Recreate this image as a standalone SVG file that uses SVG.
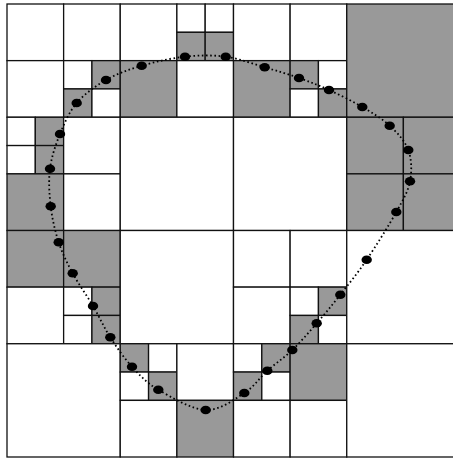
<svg xmlns="http://www.w3.org/2000/svg" width="453" height="458" viewBox="0 0 453 458">
<style>
.w{fill:#fff;stroke:#111;stroke-width:1.3}
.g{fill:#999;stroke:#111;stroke-width:1.3}
.curve{fill:none;stroke:#000;stroke-width:1.8;stroke-dasharray:1.6 2.6}
.dot{fill:#000}
</style>
<rect x="0" y="0" width="453" height="458" fill="#fff"/>
<g id="cells" transform="translate(7,4)">
<!-- top-left quadrant -->
<rect class="w" x="0" y="0" width="56.63" height="56.63"/>
<rect class="w" x="56.63" y="0" width="56.63" height="56.63"/>
<rect class="w" x="0" y="56.63" width="56.63" height="56.63"/>
<rect class="w" x="56.63" y="56.63" width="28.31" height="28.31"/>
<rect class="g" x="84.94" y="56.63" width="28.31" height="28.31"/>
<rect class="g" x="56.63" y="84.94" width="28.31" height="28.31"/>
<rect class="w" x="84.94" y="84.94" width="28.31" height="28.31"/>
<rect class="w" x="113.25" y="0" width="56.63" height="56.63"/>
<rect class="w" x="169.88" y="0" width="28.31" height="28.31"/>
<rect class="w" x="198.19" y="0" width="28.31" height="28.31"/>
<rect class="g" x="169.88" y="28.31" width="28.31" height="28.31"/>
<rect class="g" x="198.19" y="28.31" width="28.31" height="28.31"/>
<rect class="g" x="113.25" y="56.63" width="56.63" height="56.63"/>
<rect class="w" x="169.88" y="56.63" width="56.63" height="56.63"/>
<rect class="w" x="0" y="113.25" width="28.31" height="28.31"/>
<rect class="g" x="28.31" y="113.25" width="28.31" height="28.31"/>
<rect class="w" x="0" y="141.56" width="28.31" height="28.31"/>
<rect class="g" x="28.31" y="141.56" width="28.31" height="28.31"/>
<rect class="w" x="56.63" y="113.25" width="56.63" height="56.63"/>
<rect class="g" x="0" y="169.88" width="56.63" height="56.63"/>
<rect class="w" x="56.63" y="169.88" width="56.63" height="56.63"/>
<rect class="w" x="113.25" y="113.25" width="113.25" height="113.25"/>
<!-- top-right quadrant -->
<rect class="w" x="226.5" y="0" width="56.63" height="56.63"/>
<rect class="w" x="283.13" y="0" width="56.63" height="56.63"/>
<rect class="g" x="226.5" y="56.63" width="56.63" height="56.63"/>
<rect class="g" x="283.13" y="56.63" width="28.31" height="28.31"/>
<rect class="w" x="311.44" y="56.63" width="28.31" height="28.31"/>
<rect class="w" x="283.13" y="84.94" width="28.31" height="28.31"/>
<rect class="g" x="311.44" y="84.94" width="28.31" height="28.31"/>
<rect class="g" x="339.75" y="0" width="113.25" height="113.25"/>
<rect class="w" x="226.5" y="113.25" width="113.25" height="113.25"/>
<rect class="g" x="339.75" y="113.25" width="56.63" height="56.63"/>
<rect class="g" x="396.38" y="113.25" width="56.63" height="56.63"/>
<rect class="g" x="339.75" y="169.88" width="56.63" height="56.63"/>
<rect class="g" x="396.38" y="169.88" width="56.63" height="56.63"/>
<!-- bottom-left quadrant -->
<rect class="g" x="0" y="226.5" width="56.63" height="56.63"/>
<rect class="g" x="56.63" y="226.5" width="56.63" height="56.63"/>
<rect class="w" x="0" y="283.13" width="56.63" height="56.63"/>
<rect class="w" x="56.63" y="283.13" width="28.31" height="28.31"/>
<rect class="g" x="84.94" y="283.13" width="28.31" height="28.31"/>
<rect class="w" x="56.63" y="311.44" width="28.31" height="28.31"/>
<rect class="g" x="84.94" y="311.44" width="28.31" height="28.31"/>
<rect class="w" x="113.25" y="226.5" width="113.25" height="113.25"/>
<rect class="w" x="0" y="339.75" width="113.25" height="113.25"/>
<rect class="g" x="113.25" y="339.75" width="28.31" height="28.31"/>
<rect class="w" x="141.56" y="339.75" width="28.31" height="28.31"/>
<rect class="w" x="113.25" y="368.06" width="28.31" height="28.31"/>
<rect class="g" x="141.56" y="368.06" width="28.31" height="28.31"/>
<rect class="w" x="169.88" y="339.75" width="56.63" height="56.63"/>
<rect class="w" x="113.25" y="396.38" width="56.63" height="56.63"/>
<rect class="g" x="169.88" y="396.38" width="56.63" height="56.63"/>
<!-- bottom-right quadrant -->
<rect class="w" x="226.5" y="226.5" width="56.63" height="56.63"/>
<rect class="w" x="283.13" y="226.5" width="56.63" height="56.63"/>
<rect class="w" x="226.5" y="283.13" width="56.63" height="56.63"/>
<rect class="w" x="283.13" y="283.13" width="28.31" height="28.31"/>
<rect class="g" x="311.44" y="283.13" width="28.31" height="28.31"/>
<rect class="g" x="283.13" y="311.44" width="28.31" height="28.31"/>
<rect class="w" x="311.44" y="311.44" width="28.31" height="28.31"/>
<rect class="w" x="339.75" y="226.5" width="113.25" height="113.25"/>
<rect class="w" x="226.5" y="339.75" width="28.31" height="28.31"/>
<rect class="g" x="254.81" y="339.75" width="28.31" height="28.31"/>
<rect class="g" x="226.5" y="368.06" width="28.31" height="28.31"/>
<rect class="w" x="254.81" y="368.06" width="28.31" height="28.31"/>
<rect class="g" x="283.13" y="339.75" width="56.63" height="56.63"/>
<rect class="w" x="226.5" y="396.38" width="56.63" height="56.63"/>
<rect class="w" x="283.13" y="396.38" width="56.63" height="56.63"/>
<rect class="w" x="339.75" y="339.75" width="113.25" height="113.25"/>
</g>
<g id="contour">
<path class="curve" d="M185,56.7 C199,55.2 212.42,54.93 225.7,56.7 C238.98,58.47 252.48,63.75 264.7,67.3 C276.92,70.85 288.28,74.22 299,78 C309.72,81.78 318.45,85.17 329,90 C339.55,94.83 352.18,101.05 362.3,107 C372.42,112.95 382.03,118.53 389.7,125.7 C397.37,132.87 404.92,140.73 408.3,150 C411.68,159.27 412,170.97 410,181.3 C408,191.63 403.52,198.93 396.3,212 C389.08,225.07 376.03,245.92 366.7,259.7 C357.37,273.48 348.63,284.1 340.3,294.7 C331.97,305.3 324.7,314.08 316.7,323.3 C308.7,332.52 300.53,342.1 292.3,350 C284.07,357.9 275.3,363.53 267.3,370.7 C259.3,377.87 254.57,386.45 244.3,393 C234.03,399.55 220.03,410.55 205.7,410 C191.37,409.45 170.58,396.92 158.3,389.7 C146.02,382.48 140,375.43 132,366.7 C124,357.97 116.8,347.42 110.3,337.3 C103.8,327.18 99.27,316.67 93,306 C86.73,295.33 78.42,283.92 72.7,273.3 C66.98,262.68 62.37,253.47 58.7,242.3 C55.03,231.13 52.15,218.57 50.7,206.3 C49.25,194.03 48.45,180.75 50,168.7 C51.55,156.65 55.55,144.95 60,134 C64.45,123.05 69.03,112 76.7,103 C84.37,94 95.17,86.22 106,80 C116.83,73.78 128.53,69.58 141.7,65.7 C154.87,61.82 171,58.2 185,56.7 Z"/>
<g class="dot">
<ellipse cx="185" cy="56.7" rx="5.2" ry="4.3"/>
<ellipse cx="225.7" cy="56.7" rx="5.2" ry="4.3"/>
<ellipse cx="264.7" cy="67.3" rx="5.2" ry="4.3"/>
<ellipse cx="299" cy="78" rx="5.2" ry="4.3"/>
<ellipse cx="329" cy="90" rx="5.2" ry="4.3"/>
<ellipse cx="362.3" cy="107" rx="5.2" ry="4.3"/>
<ellipse cx="389.7" cy="125.7" rx="5.2" ry="4.3"/>
<ellipse cx="408.3" cy="150" rx="5.2" ry="4.3"/>
<ellipse cx="410" cy="181.3" rx="5.2" ry="4.3"/>
<ellipse cx="396.3" cy="212" rx="5.2" ry="4.3"/>
<ellipse cx="366.7" cy="259.7" rx="5.2" ry="4.3"/>
<ellipse cx="340.3" cy="294.7" rx="5.2" ry="4.3"/>
<ellipse cx="316.7" cy="323.3" rx="5.2" ry="4.3"/>
<ellipse cx="292.3" cy="350" rx="5.2" ry="4.3"/>
<ellipse cx="267.3" cy="370.7" rx="5.2" ry="4.3"/>
<ellipse cx="244.3" cy="393" rx="5.2" ry="4.3"/>
<ellipse cx="205.7" cy="410" rx="5.2" ry="4.3"/>
<ellipse cx="158.3" cy="389.7" rx="5.2" ry="4.3"/>
<ellipse cx="132" cy="366.7" rx="5.2" ry="4.3"/>
<ellipse cx="110.3" cy="337.3" rx="5.2" ry="4.3"/>
<ellipse cx="93" cy="306" rx="5.2" ry="4.3"/>
<ellipse cx="72.7" cy="273.3" rx="5.2" ry="4.3"/>
<ellipse cx="58.7" cy="242.3" rx="5.2" ry="4.3"/>
<ellipse cx="50.7" cy="206.3" rx="5.2" ry="4.3"/>
<ellipse cx="50" cy="168.7" rx="5.2" ry="4.3"/>
<ellipse cx="60" cy="134" rx="5.2" ry="4.3"/>
<ellipse cx="76.7" cy="103" rx="5.2" ry="4.3"/>
<ellipse cx="106" cy="80" rx="5.2" ry="4.3"/>
<ellipse cx="141.7" cy="65.7" rx="5.2" ry="4.3"/>
</g>
</g>
</svg>
